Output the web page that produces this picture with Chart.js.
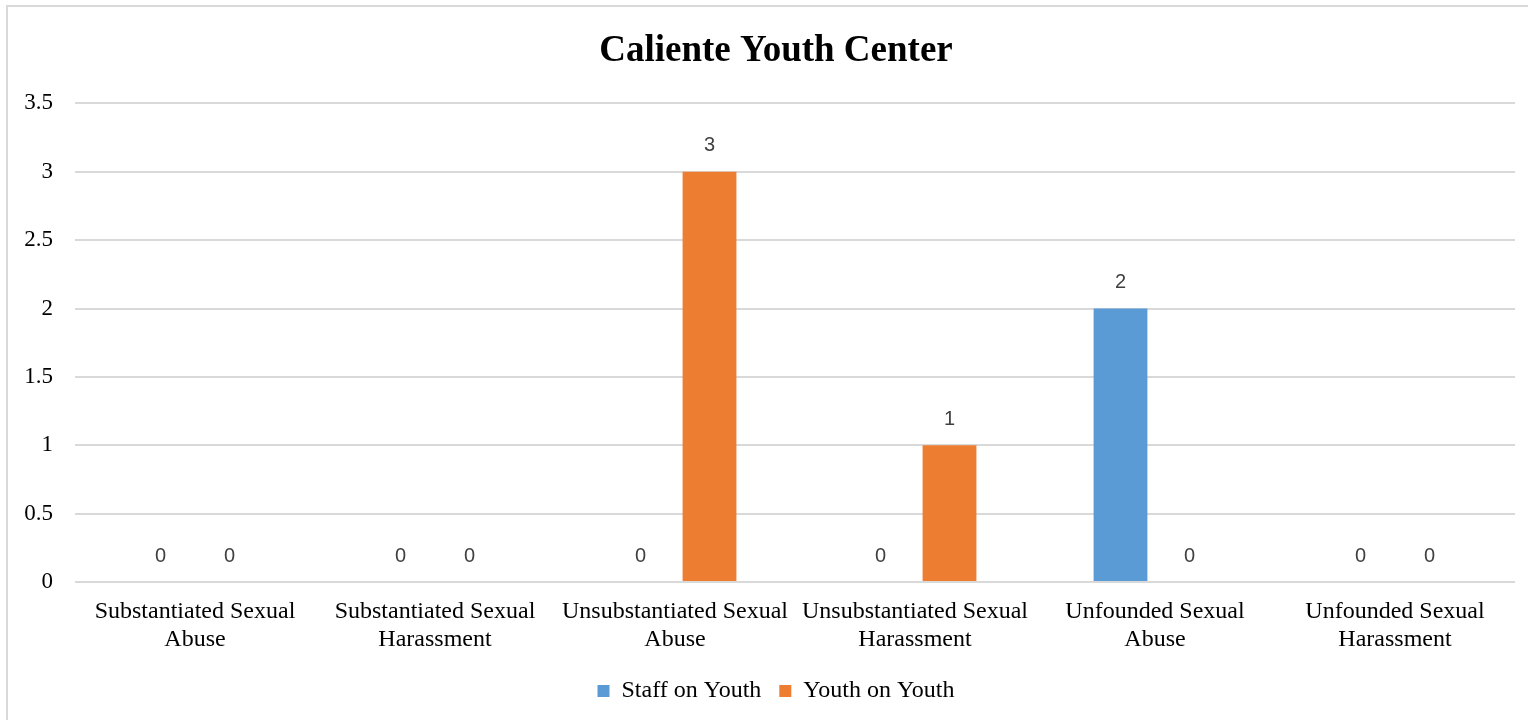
<!DOCTYPE html>
<html>
<head>
<meta charset="utf-8">
<script src="https://cdn.jsdelivr.net/npm/chart.js"></script>
<style>
  body { margin: 0; background: #fff; overflow: hidden; }
  #frame { position: absolute; left: 6px; top: 5px; width: 1560px; height: 740px; border: 2px solid #d9d9d9; }
  #chart { position: absolute; left: 0; top: 0; }
</style>
</head>
<body>
<div id="frame"></div>
<canvas id="chart" width="1552" height="720"></canvas>
<script>
const categories = [
    ['Substantiated Sexual', 'Abuse'],
    ['Substantiated Sexual', 'Harassment'],
    ['Unsubstantiated Sexual', 'Abuse'],
    ['Unsubstantiated Sexual', 'Harassment'],
    ['Unfounded Sexual', 'Abuse'],
    ['Unfounded Sexual', 'Harassment']
];
const staffOnYouth = [0, 0, 0, 0, 2, 0];
const youthOnYouth = [0, 0, 3, 1, 0, 0];

// draws the value above each bar
const valueLabels = {
    id: 'valueLabels',
    afterDatasetsDraw(chart) {
        const ctx = chart.ctx;
        ctx.save();
        ctx.font = '20px "Liberation Sans", sans-serif';
        ctx.fillStyle = '#404040';
        ctx.textAlign = 'center';
        ctx.textBaseline = 'middle';
        chart.data.datasets.forEach((ds, i) => {
            chart.getDatasetMeta(i).data.forEach((bar, j) => {
                ctx.fillText(String(ds.data[j]), bar.x, bar.y - 26);
            });
        });
        ctx.restore();
    }
};

const ctx = document.getElementById('chart').getContext('2d');
new Chart(ctx, {
    type: 'bar',
    data: {
        labels: categories,
        datasets: [{
            label: 'Staff on Youth',
            data: staffOnYouth,
            backgroundColor: '#5b9bd5'
        }, {
            label: 'Youth on Youth',
            data: youthOnYouth,
            backgroundColor: '#ed7d31'
        }]
    },
    plugins: [valueLabels],
    options: {
        responsive: false,
        animation: false,
        devicePixelRatio: 1,
        categoryPercentage: 0.575,
        barPercentage: 0.78,
        layout: { padding: { left: 0, right: 0, top: 0, bottom: 7 } },
        plugins: {
            title: {
                display: true,
                text: 'Caliente Youth Center',
                color: '#000',
                font: { family: '"Liberation Serif", serif', size: 37, weight: 'bold', lineHeight: 1.2 },
                padding: { top: 29, bottom: 30 }
            },
            legend: {
                position: 'bottom',
                labels: {
                    color: '#000',
                    font: { family: '"Liberation Serif", serif', size: 24, lineHeight: 1 },
                    boxWidth: 12,
                    boxHeight: 12,
                    padding: 18
                }
            },
            tooltip: { enabled: false }
        },
        scales: {
            x: {
                grid: { display: false },
                border: { display: false },
                ticks: {
                    color: '#000',
                    font: { family: '"Liberation Serif", serif', size: 24, lineHeight: 1.17 },
                    maxRotation: 0,
                    autoSkip: false,
                    padding: 8
                },
                afterFit: scale => { scale.height = 79; }
            },
            y: {
                min: 0,
                max: 3.5,
                ticks: {
                    stepSize: 0.5,
                    color: '#000',
                    font: { family: '"Liberation Serif", serif', size: 23 },
                    padding: 22,
                    callback: v => String(v)
                },
                grid: { color: '#d9d9d9', lineWidth: 2, drawTicks: false },
                border: { display: false },
                afterFit: scale => { scale.width = 75; }
            },
            // empty right-hand space so the plot ends where the reference does
            yRight: {
                type: 'linear',
                position: 'right',
                ticks: { display: false },
                grid: { display: false },
                border: { display: false },
                afterFit: scale => { scale.width = 37; }
            }
        }
    }
});
</script>
</body>
</html>
